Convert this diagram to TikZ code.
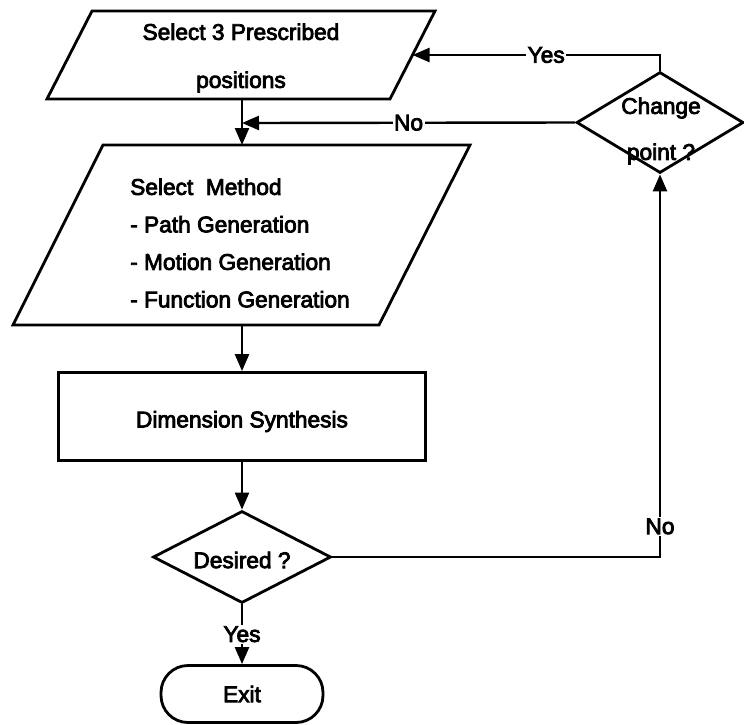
\documentclass[tikz,border=0pt]{standalone}
\usepackage{fontspec}
\setmainfont{Liberation Sans}[FakeBold=3.5]
\usetikzlibrary{arrows.meta,shapes.geometric}

\begin{document}
\begin{tikzpicture}[x=1pt,y=-1pt,
  every node/.style={font=\fontsize{22.7}{27}\selectfont, inner sep=0pt},
  outline/.style={draw=black, line width=2.8pt, line join=miter},
  conn/.style={draw=black, line width=2.4pt},
  arr/.style={conn, -{Triangle[length=17pt,width=14pt]}},
  lbl/.style={fill=white, inner sep=1.5pt},
  decision/.style={outline, shape=diamond, inner sep=0pt},
  procbox/.style={outline, rectangle, minimum width=367pt, minimum height=88pt},
  terminal/.style={outline, rectangle, rounded corners=27pt,
                   minimum width=162pt, minimum height=57pt}
]
\useasboundingbox (0,0) rectangle (744,724);

% input: prescribed positions
\draw[outline] (92,11) -- (435,11) -- (390,99) -- (47,99) -- cycle;
\node[align=center, font=\fontsize{22.7}{48}\selectfont] (pos) at (241,58)
  {Select 3 Prescribed\\positions};
\coordinate (posS) at (242,99);
\coordinate (posE) at (412.5,55);

% input: synthesis method
\draw[outline] (103,145) -- (470,145) -- (379,325) -- (13,325) -- cycle;
\node[align=left, anchor=west, font=\fontsize{22.7}{37.5}\selectfont] (meth) at (130,243)
  {Select~~Method\\- Path Generation\\- Motion Generation\\- Function Generation};
\coordinate (methN) at (242,145);
\coordinate (methS) at (242,325);
\coordinate (merge) at (242,123);

% dimension synthesis
\node[procbox] (dim) at (242,416.5) {};
\node at ([yshift=-5pt]dim.center) {Dimension Synthesis};

% decision: desired?
\node[decision, minimum width=178pt, minimum height=92pt] (des) at (242,557) {};
\node at ([yshift=-3pt]des.center) {Desired ?};

% exit
\node[terminal] (exit) at (242,694) {Exit};

% decision: change point?
\node[decision, minimum width=167pt, minimum height=101pt] (chg) at (660,122.5) {};
\node[align=center, font=\fontsize{22.7}{46}\selectfont] (chgt) at (661,131)
  {Change\\point ?};

% connectors
\draw[arr] (posS) -- (methN);
\draw[arr] (methS) -- (dim.north);
\draw[arr] (dim.south) -- (des.north);
\draw[arr] (des.south) -- node[lbl] {Yes} (exit.north);
\draw[arr] (des.east) -| node[lbl, pos=0.54] {No} (chg.south);
\draw[arr] (chg.north) |- node[lbl, pos=0.73] {Yes} (posE);
\draw[arr] (chg.west) -- node[lbl] {No} (merge);
\end{tikzpicture}
\end{document}
